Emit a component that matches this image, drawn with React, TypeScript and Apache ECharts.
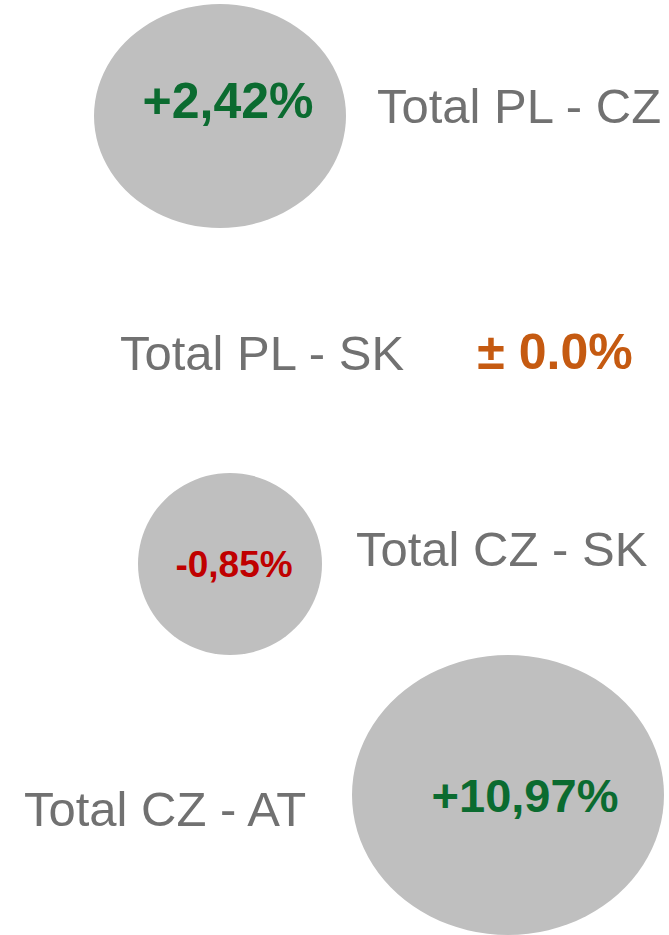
import React, { useEffect, useRef } from "react";
import * as echarts from "echarts";

const categories = ["Total PL - CZ", "Total PL - SK", "Total CZ - SK", "Total CZ - AT"];
const changes = [2.42, 0.0, -0.85, 10.97];
const changeLabels = ["+2,42%", "± 0.0%", "-0,85%", "+10,97%"];
const bubbleX = [220, 555, 230, 508];
const bubbleY = [116, 352, 564, 795];
const bubbleW = [252, 0, 184, 312];
const bubbleH = [224, 0, 182, 280];
const labelX = [377, 120, 356, 24];
const labelY = [106, 353, 549, 809];

const valueFont = [50, 50, 37, 47];
const valueOffset: [number, number][] = [[8, -15], [0, 0], [4, 0], [17, 0]];

function colorFor(v: number) {
  if (v > 0) return "#0b6b30";
  if (v < 0) return "#c00000";
  return "#c55a11";
}

export default function App() {
  const ref = useRef<HTMLDivElement>(null);
  useEffect(() => {
    document.body.style.margin = "0";
    const chart = echarts.init(ref.current!, null, { renderer: "svg" });
    const bubbleData = categories.map((c, i) => ({
      name: c,
      value: [bubbleX[i], bubbleY[i]],
      symbolSize: [bubbleW[i], bubbleH[i]],
      label: {
        show: true,
        position: "inside",
        formatter: changeLabels[i],
        color: colorFor(changes[i]),
        fontSize: valueFont[i],
        fontWeight: "bold",
        fontFamily: "Liberation Sans, Arial, sans-serif",
        offset: valueOffset[i],
      },
    }));
    const textData = categories.map((c, i) => ({
      name: c,
      value: [labelX[i], labelY[i]],
    }));
    chart.setOption({
      animation: false,
      grid: { left: 0, right: 0, top: 0, bottom: 0 },
      xAxis: { type: "value", min: 0, max: 669, show: false },
      yAxis: { type: "value", min: 0, max: 935, inverse: true, show: false },
      series: [
        {
          type: "scatter",
          symbol: "circle",
          itemStyle: { color: "#bfbfbf", opacity: 1 },
          data: bubbleData,
          silent: true,
        },
        {
          type: "scatter",
          symbolSize: 0,
          data: textData,
          silent: true,
          label: {
            show: true,
            position: "right",
            distance: 0,
            formatter: (p: any) => p.name,
            color: "#4d4d4d",
            fontSize: 49,
            fontFamily: "Liberation Sans, Arial, sans-serif",
          },
        },
      ],
    });
    return () => chart.dispose();
  }, []);
  return <div ref={ref} style={{ width: 669, height: 935 }} />;
}
